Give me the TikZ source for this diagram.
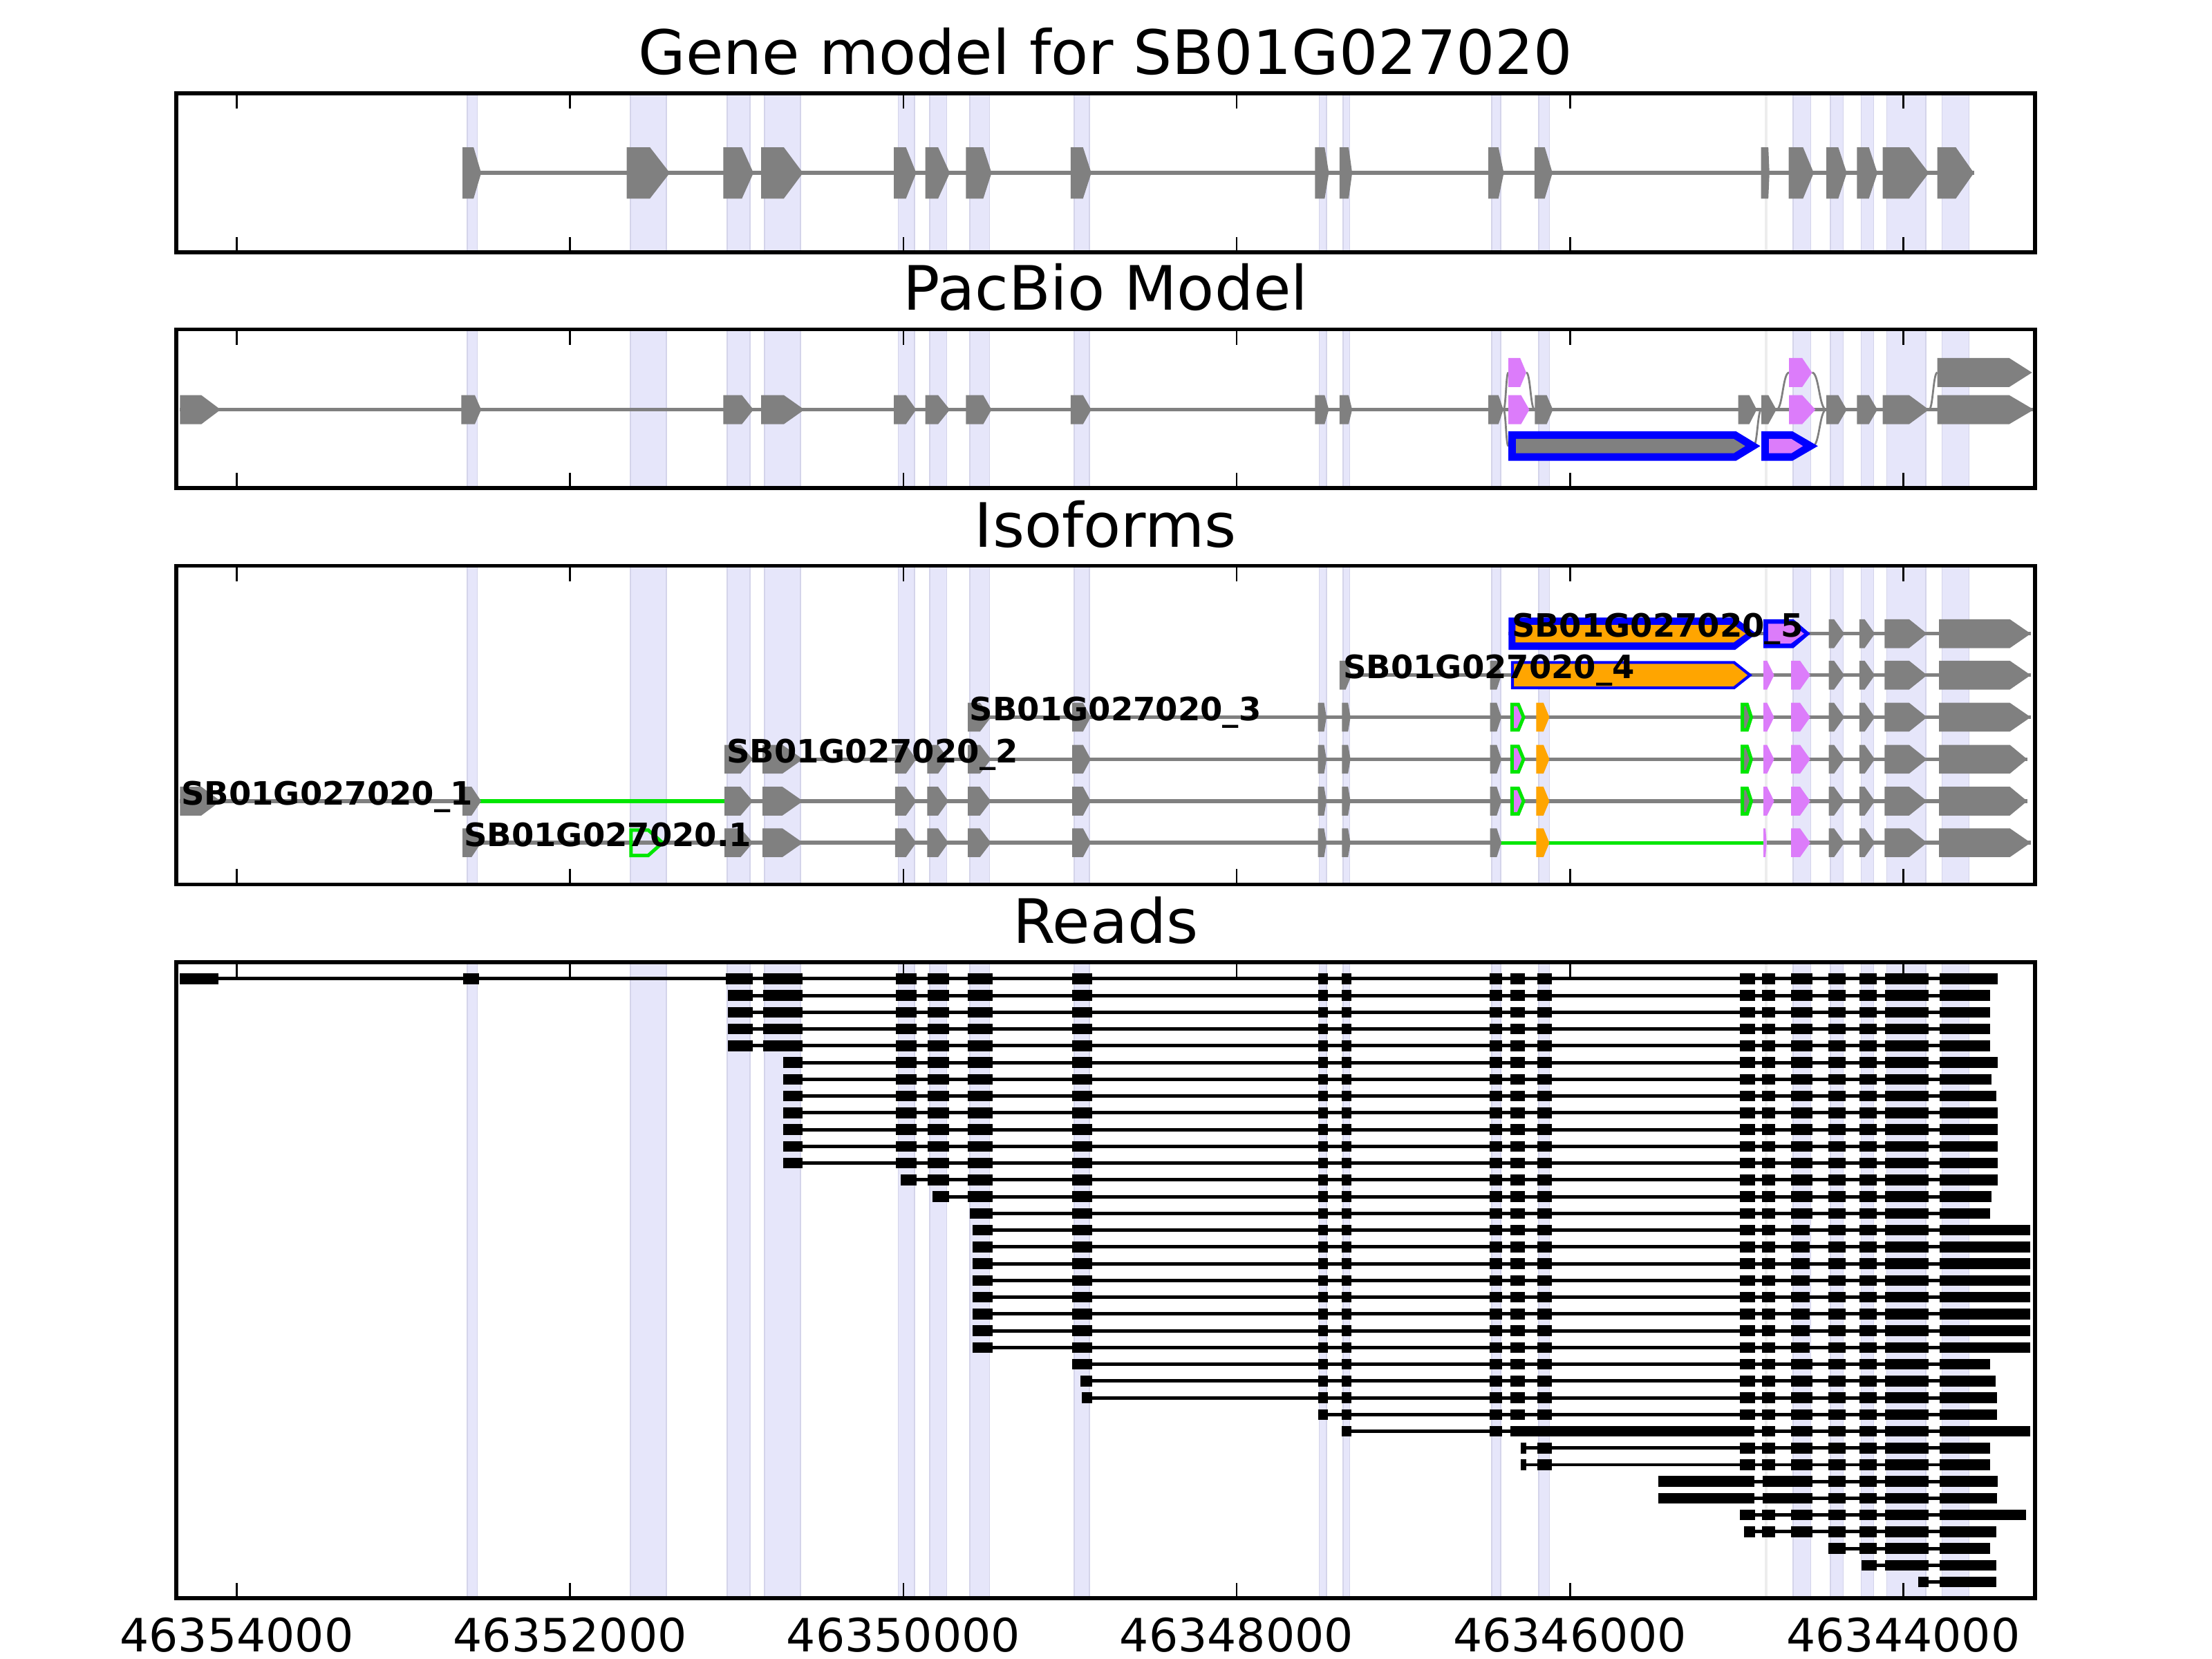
\documentclass[tikz,border=0pt]{standalone}
\usepackage{fontspec}
\setmainfont{DejaVu Sans}
\definecolor{lav}{HTML}{E6E6FA}
\definecolor{lavedge}{HTML}{D4D4EA}
\definecolor{eg}{HTML}{808080}
\definecolor{pk}{HTML}{DC7CFA}
\definecolor{grn}{HTML}{00E600}
\definecolor{org}{HTML}{FFA500}
\tikzset{
 frame/.style={line width=1pt, draw=black},
 tickmark/.style={line width=0.5pt, draw=black},
 band/.style={fill=lav, draw=lavedge, line width=0.3pt},
 intr/.style={draw=eg, line width=1pt},
 grnline/.style={draw=grn, line width=0.95pt},
 gex/.style={fill=eg},
 pex/.style={fill=pk},
 gout/.style={fill=pk, draw=grn, line width=0.9pt},
 ggray/.style={fill=eg, draw=grn, line width=0.9pt},
 gnone/.style={draw=grn, line width=0.9pt},
 junc/.style={draw=eg, line width=0.5pt},
 readline/.style={draw=black, line width=0.9pt},
 ptitle/.style={font=\fontsize{16}{19}\selectfont, anchor=base, inner sep=0pt},
 ticklab/.style={font=\fontsize{12}{14}\selectfont, anchor=base, inner sep=0pt},
 isolab/.style={font=\fontsize{8.4}{10}\selectfont\bfseries, anchor=base west, inner sep=0pt},
}
% exon pentagon: x0, top end, tip ; uses \ey (centre) and \eh (half height)
\newcommand{\ex}[4][gex]{\path[#1] (#2,\ey-\eh) -- (#3,\ey-\eh) -- (#4,\ey) -- (#3,\ey+\eh) -- (#2,\ey+\eh) -- cycle;}
\def\bands{331.1/338.4,447.0/472.5,515.4/531.8,541.9/567.4,636.8/648.2,659.1/671.0,687.4/701.5,761.3/772.3,935.2/940.3,952.2/956.8,1057.3/1063.9,1090.7/1098.3,1271.2/1283.5,1297.6/1306.5,1319.3/1328.2,1337.5/1365.2,1376.6/1395.8}
\newcommand{\panelbg}[2]{%
 \foreach \a/\b in \bands {\path[band] (\a,#1) rectangle (\b,#2);}
 \path[fill=black!7] (1251.1,#1) rectangle (1252.8,#2);}
\newcommand{\panelfg}[2]{%
 \draw[frame] (125,#1) rectangle (1442.5,#2);
 \foreach \t in {167.8,404.1,640.4,876.6,1112.9,1349.2}{%
   \draw[tickmark] (\t,#1) -- (\t,#1+10.9);
   \draw[tickmark] (\t,#2) -- (\t,#2-10.9);}}
% reads
\newcommand{\rdl}[3]{\pgfmathsetmacro\ry{693.8+11.88*#1}%
 \draw[readline] (#2,\ry) -- (#3,\ry);
 \fill (1374.9,\ry-3.8) rectangle (#3,\ry+3.8);}
\newcommand{\rdb}[2]{\pgfmathsetmacro\ry{693.8+11.88*#1}%
 \foreach \a/\b in #2 {\fill (\a,\ry-3.8) rectangle (\b,\ry+3.8);}}
\def\MidA{635.2/649.9,657.7/672.7,685.8/703.7}
\def\MidB{759.9/774.0,934.3/941.2,950.9/957.8,1056.0/1064.7,1070.8/1081.0,1089.6/1099.9,1233.4/1244.0,1249.2/1258.4}
\def\MidC{934.3/941.2,950.9/957.8,1056.0/1064.7,1070.8/1081.0,1089.6/1099.9,1233.4/1244.0,1249.2/1258.4}
\def\TailW{1269.7/1285.0,1296.1/1308.3,1318.2/1330.3,1336.0/1367.0}
\def\TailN{1269.7/1282.6,1296.1/1308.3,1318.2/1330.3,1336.0/1367.0}
% isoform helpers
\newcommand{\isotail}[1]{\ex{1296.3}{1300.1}{1307.4}\ex{1318}{1321.8}{1329}\ex{1335.9}{1353.3}{1366}\ex{1374.5}{1424.7}{#1}}
\newcommand{\isoleft}{\ex{513.6}{525}{533.7}\ex{540.5}{554.6}{569.2}\ex{634.5}{642.2}{649.5}\ex{657.3}{665}{672.3}}
\newcommand{\isomid}{\ex{686}{694.7}{702.5}\ex{760}{767.7}{773.2}\ex{934.3}{938.6}{940.3}\ex{951.3}{955.6}{957.3}\ex{1056.3}{1061}{1064.3}}
\newcommand{\isoalt}{{\def\eh{9}\ex[gout]{1071.8}{1076.3}{1080.0}\ex[ggray]{1235.1}{1238.5}{1241.4}}\ex[fill=org]{1089}{1094.1}{1098.3}\ex[pex]{1250}{1252.6}{1257.6}\ex[pex]{1269.6}{1276}{1283.2}}
\begin{document}
\begin{tikzpicture}[x=0.36873pt,y=-0.36873pt]
\useasboundingbox (0,0) rectangle (1568,1176);
\fill[white] (0,0) rectangle (1568,1176);

% ---------- titles ----------
\node[ptitle] (t1) at (783.75,52.8) {Gene model for SB01G027020};
\node[ptitle] (t2) at (783.75,220.0) {PacBio Model};
\node[ptitle] (t3) at (783.75,387.7) {Isoforms};
\node[ptitle] (t4) at (783.75,668.7) {Reads};

% ---------- panel 1: gene model ----------
\panelbg{66.1}{178.8}
\def\ey{122.6}\def\eh{18.2}
\draw[intr] (327.9,\ey) -- (1399.2,\ey);
\ex{327.9}{335.7}{341.1}\ex{444.2}{460.7}{474.8}\ex{512.7}{525.9}{534.1}\ex{539.6}{555.6}{569.2}
\ex{633.6}{642.2}{649.5}\ex{655.9}{665.0}{673.3}\ex{684.7}{697.0}{702.9}\ex{759.0}{767.7}{773.6}
\ex{932.2}{939.0}{942.0}\ex{949.6}{956.0}{958.5}\ex{1055.0}{1062.2}{1066.0}\ex{1087.7}{1095.0}{1100.5}
\ex{1248.3}{1253.5}{1254.3}\ex{1267.9}{1278.1}{1285.7}\ex{1294.6}{1303.1}{1309.1}\ex{1316.3}{1324.8}{1330.8}
\ex{1334.6}{1353.3}{1367.3}\ex{1373.3}{1386.4}{1399.2}
\panelfg{66.1}{178.8}

% ---------- panel 2: PacBio ----------
\panelbg{233.4}{346.0}
\def\eh{10.3}
% junction curves
\draw[junc] (1065.7,290.4) .. controls (1067.5,290.4) and (1067.5,264.1) .. (1069.2,264.1);
\draw[junc] (1081.9,264.1) .. controls (1084.9,264.1) and (1084.9,290.4) .. (1087.9,290.4);
\draw[junc] (1065.7,290.4) .. controls (1067.5,290.4) and (1067.5,316.2) .. (1069.2,316.2);
\draw[junc] (1243.0,316.2) .. controls (1245.8,316.2) and (1245.8,290.4) .. (1248.6,290.4);
\draw[junc] (1259.2,290.4) .. controls (1263.7,290.4) and (1263.7,264.1) .. (1268.2,264.1);
\draw[junc] (1284.5,264.1) .. controls (1289.5,264.1) and (1289.5,290.4) .. (1294.6,290.4);
\draw[junc] (1285.0,316.2) .. controls (1289.8,316.2) and (1289.8,290.4) .. (1294.6,290.4);
\draw[junc] (1367.3,290.4) .. controls (1370.3,290.4) and (1370.3,264.1) .. (1373.3,264.1);
% main row
\def\ey{290.4}
\draw[intr] (127.6,\ey) -- (1441.7,\ey);
\ex{127.6}{142.7}{156.4}\ex{327.0}{336.6}{341.1}\ex{512.7}{525.9}{534.1}\ex{539.6}{555.6}{570.2}
\ex{633.6}{642.2}{649.5}\ex{655.9}{665.0}{673.3}\ex{684.7}{697.0}{702.9}\ex{759.0}{767.7}{773.6}
\ex{932.2}{939.0}{942.0}\ex{949.6}{956.0}{958.5}\ex{1055.0}{1062.2}{1065.7}
\ex[pex]{1069.2}{1078.2}{1084.1}
\ex{1088.0}{1096.4}{1100.8}\ex{1232.2}{1240.0}{1245.3}\ex{1248.6}{1253.5}{1259.2}
\ex[pex]{1268.2}{1277.5}{1286.9}
\ex{1294.6}{1303.1}{1309.1}\ex{1316.3}{1324.8}{1330.8}\ex{1334.6}{1353.3}{1367.3}\ex{1373.3}{1424.2}{1441.7}
% upper row
\def\ey{264.1}
\ex[pex]{1069.2}{1077.6}{1081.9}\ex[pex]{1268.2}{1277.5}{1284.5}\ex{1373.3}{1424.2}{1440.4}
% lower row
\def\ey{316.2}\def\eh{10.45}
\ex[fill=blue]{1069.2}{1230.6}{1247.8}\ex[fill=blue]{1248.6}{1270.6}{1288.6}
\def\eh{5.1}
\ex{1074.6}{1228.9}{1237.1}\ex[pex]{1254.0}{1269.8}{1278.0}
\panelfg{233.4}{346.0}

% ---------- panel 3: isoforms ----------
\panelbg{401.0}{627.0}
\def\eh{10.2}
% row .1
\def\ey{597.4}
\draw[intr] (327.9,\ey) -- (1062.2,\ey);
\draw[intr] (1252.3,\ey) -- (1439.5,\ey);
\draw[grnline] (1062.2,\ey) -- (1250.0,\ey);
\ex{327.9}{334.3}{341.1}{\def\eh{9}\ex[gnone]{447.3}{459.5}{469.6}}
\isoleft\isomid
\ex[fill=org]{1089}{1094.1}{1098.3}\ex[pex]{1250}{1251.5}{1252.3}\ex[pex]{1269.6}{1276}{1283.2}
\isotail{1439.5}
% row _1
\def\ey{567.9}
\draw[intr] (127.6,\ey) -- (1437,\ey);
\draw[grnline] (338.4,\ey) -- (516.8,\ey);
\ex{127.6}{142.7}{156.4}\ex{327.9}{334.3}{341.1}
\isoleft\isomid\isoalt\isotail{1437}
% row _2
\def\ey{538.2}
\draw[intr] (513.6,\ey) -- (1437,\ey);
\isoleft\isomid\isoalt\isotail{1437}
% row _3
\def\ey{508.4}
\draw[intr] (686,\ey) -- (1439.5,\ey);
\isomid\isoalt\isotail{1439.5}
% row _4
\def\ey{478.6}
\draw[intr] (949.6,\ey) -- (1439.5,\ey);
\ex{949.6}{953.9}{958.1}\ex{1056.3}{1061}{1064.3}
{\def\eh{9}\ex[fill=org,draw=blue,line width=0.75pt]{1072.1}{1229.2}{1240.5}}
\ex[pex]{1250}{1252.6}{1257.6}\ex[pex]{1269.6}{1276}{1283.2}
\isotail{1439.5}
% row _5
\def\ey{449.2}
\draw[intr] (1069.4,\ey) -- (1439.5,\ey);
{\def\eh{11.45}\ex[fill=blue]{1069.4}{1230}{1245}\def\eh{6.2}\ex[fill=org]{1074.3}{1228.9}{1237.5}}
\ex[fill=blue]{1250}{1271.3}{1283.2}
{\def\eh{7.0}\ex[pex]{1253.4}{1269.5}{1278.8}}
\isotail{1439.5}
% labels
\node[isolab] (l1) at (128.0,570.4) {SB01G027020\_1};
\node[isolab] (l0) at (328.4,599.9) {SB01G027020.1};
\node[isolab] (l2) at (514.5,540.7) {SB01G027020\_2};
\node[isolab] (l3) at (686.9,510.9) {SB01G027020\_3};
\node[isolab] (l4) at (951.7,481.1) {SB01G027020\_4};
\node[isolab] (l5) at (1071.1,451.7) {SB01G027020\_5};
\panelfg{401.0}{627.0}

% ---------- panel 4: reads ----------
\panelbg{682.0}{1133.0}
\rdl{0}{127.4}{1416.3}\rdb{0}{{127.4/154.7,328.2/339.7,514.6/533.6,540.8/568.7}}\rdb{0}{\MidA}\rdb{0}{\MidB}\rdb{0}{\TailW}
\foreach \r in {1,2,3,4}{\rdl{\r}{516.2}{1410.9}\rdb{\r}{{516.2/533.6,540.8/568.7}}\rdb{\r}{\MidA}\rdb{\r}{\MidB}\rdb{\r}{\TailW}}
\foreach \r/\e in {5/1415.9,6/1411.8,7/1415.1,8/1416.3,9/1416.3,10/1416.3,11/1416.3}{\rdl{\r}{555}{\e}\rdb{\r}{{555/568.7}}\rdb{\r}{\MidA}\rdb{\r}{\MidB}\rdb{\r}{\TailW}}
\rdl{12}{638.3}{1416.3}\rdb{12}{{638.3/649.9,657.7/672.7,685.8/703.7}}\rdb{12}{\MidB}\rdb{12}{\TailW}
\rdl{13}{660.8}{1411.8}\rdb{13}{{660.8/672.7,685.8/703.7}}\rdb{13}{\MidB}\rdb{13}{\TailW}
\rdl{14}{687.4}{1410.9}\rdb{14}{{687.4/703.7}}\rdb{14}{\MidB}\rdb{14}{\TailW}
\foreach \r in {15,16,17,18,19,20,21,22}{\rdl{\r}{689.2}{1439}\rdb{\r}{{689.2/703.7}}\rdb{\r}{\MidB}\rdb{\r}{\TailN}}
\rdl{23}{759.9}{1410.8}\rdb{23}{\MidB}\rdb{23}{\TailW}
\rdl{24}{766.1}{1414.8}\rdb{24}{{766.1/774.0}}\rdb{24}{\MidC}\rdb{24}{\TailW}
\rdl{25}{766.9}{1415.5}\rdb{25}{{766.9/774.0}}\rdb{25}{\MidC}\rdb{25}{\TailW}
\rdl{26}{934.3}{1415.5}\rdb{26}{\MidC}\rdb{26}{\TailW}
\rdl{27}{951.2}{1439}\rdb{27}{{951.2/957.8,1056.0/1064.7,1070.7/1243.8,1249.2/1258.4}}\rdb{27}{\TailW}
\foreach \r in {28,29}{\rdl{\r}{1077.8}{1410.8}\rdb{\r}{{1077.8/1082.0,1089.6/1099.9,1233.4/1244.0,1249.2/1258.4}}\rdb{\r}{\TailW}}
\rdl{30}{1175.6}{1416}\rdb{30}{{1175.6/1243.8,1249.5/1285.0,1296.1/1308.3,1318.2/1330.3,1336.0/1367.0}}
\rdl{31}{1175.6}{1415.5}\rdb{31}{{1175.6/1243.8,1249.5/1285.0,1296.1/1308.3,1318.2/1330.3,1336.0/1367.0}}
\rdl{32}{1233.3}{1436.4}\rdb{32}{{1233.3/1244.0,1249.2/1258.4}}\rdb{32}{\TailW}
\rdl{33}{1236.2}{1415.3}\rdb{33}{{1236.2/1244.0,1249.2/1258.4}}\rdb{33}{\TailW}
\rdl{34}{1296.1}{1410.8}\rdb{34}{{1296.1/1308.3,1318.2/1330.3,1336.0/1367.0}}
\rdl{35}{1319.4}{1415.3}\rdb{35}{{1319.4/1330.3,1336.0/1367.0}}
\rdl{36}{1359.8}{1415.3}\rdb{36}{{1359.8/1367.0}}
\panelfg{682.0}{1133.0}

% ---------- x tick labels ----------
\node[ticklab] (x1) at (167.8,1171) {46354000};
\node[ticklab] (x2) at (404.1,1171) {46352000};
\node[ticklab] (x3) at (640.4,1171) {46350000};
\node[ticklab] (x4) at (876.6,1171) {46348000};
\node[ticklab] (x5) at (1112.9,1171) {46346000};
\node[ticklab] (x6) at (1349.2,1171) {46344000};
\end{tikzpicture}
\end{document}
